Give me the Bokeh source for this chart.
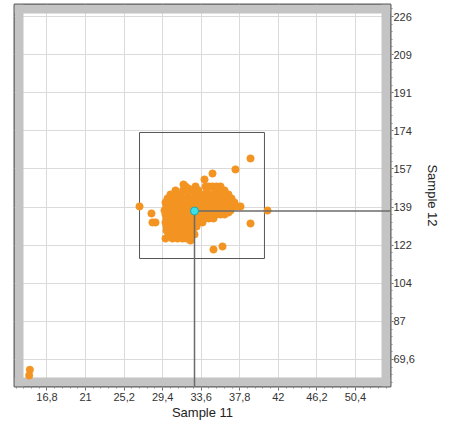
from bokeh.plotting import figure
from bokeh.models import FixedTicker, CustomJSTickFormatter, Range1d
from bokeh.embed import file_html
from bokeh.resources import INLINE

# axis ticks and limits
x_ticks = [16.8, 21.0, 25.2, 29.4, 33.6, 37.8, 42.0, 46.2, 50.4]
y_ticks = [69.6, 87.0, 104.4, 121.8, 139.2, 156.6, 174.0, 191.4, 208.8, 226.2]
x_lim = (13.26, 54.22)
y_lim = (57.27, 231.68)

# events: Sample 11 (x) vs Sample 12 (y)
sample11 = [
    31.89, 34.07, 34.83, 35.70, 32.98, 34.45, 35.27,
    30.80, 32.43, 33.30, 35.16, 36.14, 31.62, 32.87, 34.23, 35.65,
    30.25, 31.34, 32.98, 34.07, 35.48, 36.57, 30.80, 32.16, 33.53, 34.78, 36.03,
    29.93, 31.12, 32.21, 33.52, 34.61, 35.92, 36.90, 30.53, 31.67, 32.87, 34.07, 35.27, 36.41,
    29.71, 30.58, 31.78, 32.76, 33.85, 34.94, 36.25, 37.22, 30.15, 31.18, 32.27, 33.31, 34.40, 35.60, 36.74,
    29.82, 30.91, 32.21, 33.30, 34.39, 35.48, 36.57, 37.44, 30.37, 31.56, 32.76, 33.85, 34.94, 36.03, 37.01,
    29.60, 30.47, 31.56, 32.65, 33.74, 34.83, 35.92, 36.79, 30.04, 31.02, 32.11, 33.20, 34.29, 35.38, 36.36,
    29.71, 30.80, 31.89, 33.09, 34.18, 35.26, 36.14, 30.26, 31.35, 32.49, 33.64, 34.72, 35.70,
    29.82, 30.69, 31.78, 32.87, 33.96, 34.94, 30.26, 31.24, 32.33, 33.42, 34.45,
    29.71, 30.47, 31.56, 32.65, 33.74, 30.09, 31.02, 32.11, 33.20,
    29.82, 30.80, 31.89, 33.09, 30.31, 31.35, 32.49,
    29.82, 30.69, 31.78, 32.65, 30.26, 31.24, 32.22,
    30.04, 31.12, 32.00, 32.87, 30.58, 31.56, 32.44,
    30.47, 31.56, 32.43, 31.02, 32.00, 29.71, 32.43,
    38.97, 37.33, 34.83, 33.96, 31.67, 32.21, 26.88, 40.82, 37.88,
    28.18, 28.29, 28.62, 38.97, 34.94, 35.92, 36.57, 30.58, 30.91,
    14.86, 14.93,
]
sample12 = [
    148.6, 148.6, 148.6, 148.6, 148.6, 148.6, 148.6,
    146.8, 146.8, 146.8, 146.8, 146.8, 146.8, 146.8, 146.8, 146.8,
    144.9, 144.9, 144.9, 144.9, 144.9, 144.9, 144.9, 144.9, 144.9, 144.9, 144.9,
    143.1, 143.1, 143.1, 143.1, 143.1, 143.1, 143.1, 143.1, 143.1, 143.1, 143.1, 143.1, 143.1,
    141.3, 141.3, 141.3, 141.3, 141.3, 141.3, 141.3, 141.3, 141.3, 141.3, 141.3, 141.3, 141.3, 141.3, 141.3,
    139.5, 139.5, 139.5, 139.5, 139.5, 139.5, 139.5, 139.5, 139.5, 139.5, 139.5, 139.5, 139.5, 139.5, 139.5,
    137.6, 137.6, 137.6, 137.6, 137.6, 137.6, 137.6, 137.6, 137.6, 137.6, 137.6, 137.6, 137.6, 137.6, 137.6,
    135.8, 135.8, 135.8, 135.8, 135.8, 135.8, 135.8, 135.8, 135.8, 135.8, 135.8, 135.8, 135.8,
    134.0, 134.0, 134.0, 134.0, 134.0, 134.0, 134.0, 134.0, 134.0, 134.0, 134.0,
    132.2, 132.2, 132.2, 132.2, 132.2, 132.2, 132.2, 132.2, 132.2,
    130.3, 130.3, 130.3, 130.3, 130.3, 130.3, 130.3,
    128.5, 128.5, 128.5, 128.5, 128.5, 128.5, 128.5,
    126.7, 126.7, 126.7, 126.7, 126.7, 126.7, 126.7,
    124.8, 124.8, 124.8, 124.8, 124.8, 124.8, 123.9,
    161.4, 156.4, 154.5, 151.8, 149.5, 147.7, 139.5, 137.6, 139.5,
    136.3, 132.2, 132.2, 131.7, 119.8, 121.2, 136.7, 144.5, 144.5,
    62.3, 64.9,
]

# gate rectangle and cursor
gate_x = (26.88, 40.49)
gate_y = (115.7, 173.25)
cursor_x = [32.87]
cursor_y = [137.4]

p = figure(
    frame_width=376, frame_height=382,
    x_range=Range1d(*x_lim), y_range=Range1d(*y_lim),
    y_axis_location="right",
    output_backend="svg", toolbar_location=None,
    min_border_left=14, min_border_top=4, min_border_right=0, min_border_bottom=0,
)
p.background_fill_color = "white"
p.border_fill_color = "white"
p.outline_line_color = "#5c5c5c"
p.outline_line_width = 2

def minor(ticks):
    step = (ticks[1] - ticks[0]) / 5
    out = []
    for k in range(-5, len(ticks) * 5 + 5):
        out.append(ticks[0] + k * step)
    return out

xt = FixedTicker(ticks=x_ticks, minor_ticks=minor(x_ticks))
yt = FixedTicker(ticks=y_ticks, minor_ticks=minor(y_ticks))
fmt = CustomJSTickFormatter(code="return Number(tick.toPrecision(3)).toString().replace('.', ',');")

for ax, t in ((p.xaxis[0], xt), (p.yaxis[0], yt)):
    ax.ticker = t
    ax.formatter = fmt
    ax.axis_line_color = None
    ax.major_tick_line_color = "#666666"
    ax.minor_tick_line_color = "#888888"
    ax.major_tick_out = 4
    ax.major_tick_in = 0
    ax.minor_tick_out = 2
    ax.minor_tick_in = 0
    ax.major_label_text_font = "Liberation Sans"
    ax.major_label_text_font_size = "11px"
    ax.major_label_text_color = "#333333"
    ax.axis_label_text_font = "Liberation Sans"
    ax.axis_label_text_font_size = "13px"
    ax.axis_label_text_font_style = "normal"
    ax.axis_label_text_color = "#222222"

p.xaxis[0].axis_label = "Sample 11"
p.yaxis[0].axis_label = "Sample 12"
p.xaxis[0].major_label_standoff = 2
p.xaxis[0].axis_label_standoff = 1
p.yaxis[0].major_tick_out = 3
p.yaxis[0].major_label_standoff = 0
p.yaxis[0].axis_label_standoff = 7

p.xgrid.ticker = xt
p.ygrid.ticker = yt
p.grid.grid_line_color = "#dadada"
p.grid.grid_line_width = 1

# grey inner band of the frame
x0, x1 = x_lim
y0, y1 = y_lim
bx = (x1 - x0) * 9 / 376
by = (y1 - y0) * 9 / 382
band = "#c4c4c4"
p.quad(left=[x0, x1 - bx, x0, x0], right=[x0 + bx, x1, x1, x1],
       bottom=[y0, y0, y1 - by, y0], top=[y1, y1, y1, y0 + by],
       fill_color=band, line_color=None)

# gate
p.quad(left=[gate_x[0]], right=[gate_x[1]], bottom=[gate_y[0]], top=[gate_y[1]],
       fill_color=None, line_color="#555555", line_width=1)

# events
p.scatter(sample11, sample12, size=7.5, fill_color="#f39422", line_color="#f39422", line_width=0.5)

# crosshair
p.segment(x0=cursor_x, y0=cursor_y, x1=[x1], y1=cursor_y, line_color="#6b6b6b", line_width=1.5)
p.segment(x0=cursor_x, y0=cursor_y, x1=cursor_x, y1=[y0], line_color="#6b6b6b", line_width=1.5)
p.scatter(cursor_x, cursor_y, size=8, fill_color="#3ee0e8", line_color="#18a8b6", line_width=1)

open("out.html", "w").write(file_html(p, INLINE))
